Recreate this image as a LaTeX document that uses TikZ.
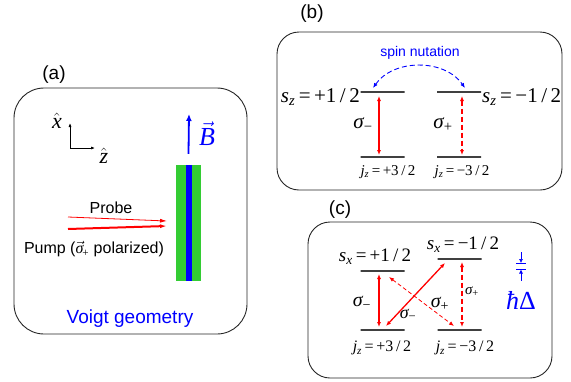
\documentclass[tikz,border=0pt]{standalone}
\usepackage{fontspec}
\setmainfont{Liberation Sans}
\newfontfamily\tms{Liberation Serif}
\usetikzlibrary{arrows.meta, positioning}
\definecolor{slabgreen}{HTML}{33CC33}
\definecolor{slabblue}{HTML}{0000FF}
\definecolor{beamred}{HTML}{FF0000}
\definecolor{lvlline}{HTML}{404040}
\newcommand{\tv}[1]{{\tms\itshape #1}}
\newcommand{\qn}[3]{{\tms\tv{#1}\textsubscript{\tv{#2}}\,=\,#3}}
\newcommand{\sig}[1]{{\tms\tv{σ}\textsubscript{#1}}}
\tikzset{
  panel/.style  = {draw=black!85, line width=0.9pt, rounded corners=22pt},
  tag/.style    = {font=\fontsize{19}{22}\selectfont, inner sep=0pt},
  lvl/.style    = {draw=lvlline, line width=1.1pt, minimum width=44pt, minimum height=0pt,
                   inner sep=0pt, outer sep=0pt},
  st/.style     = {font=\fontsize{21}{23}\selectfont, inner sep=0pt},
  jz/.style     = {font=\fontsize{15}{18}\selectfont, inner sep=0pt},
  small/.style  = {font=\fontsize{16}{18}\selectfont, inner sep=0pt},
  trans/.style  = {draw=beamred, line width=1.3pt,
                   {Latex[length=5pt,width=4pt]}-{Latex[length=5pt,width=4pt]}},
  dtrans/.style = {trans, dash pattern=on 5pt off 3pt},
  beam/.style   = {draw=beamred, -{Latex[length=7pt,width=4pt]}},
  axis/.style   = {line width=0.7pt, -{Latex[length=4pt,width=3pt]}},
  gap/.style    = {draw=blue, line width=0.6pt},
}
\begin{document}
\begin{tikzpicture}[x=1pt, y=-1pt]
\useasboundingbox (0,0) rectangle (571,381);
% (a) Voigt geometry
\draw[panel, rounded corners=30pt] (14,88) rectangle (247,334);
\node[tag] (taga) at (54,75) {(a)};
\coordinate (orig) at (70,148);
\coordinate (xtip) at (70,123);
\coordinate (ztip) at (95,148);
\draw[axis] (orig) -- (xtip);
\draw[axis] (orig) -- (ztip);
\node[st, font=\fontsize{22}{24}\selectfont] (xhat) at (57,121) {$\hat{\hbox{\tv{x}}}$};
\node[st, font=\fontsize{22}{24}\selectfont] (zhat) at (104,156) {$\hat{\hbox{\tv{z}}}$};
\node[fill=slabgreen, minimum width=25pt, minimum height=116pt, inner sep=0pt] (slab) at (188.5,223) {};
\node[fill=slabblue, minimum width=6pt, minimum height=116pt, inner sep=0pt] (core) at (slab.center) {};
\coordinate (btip) at (189,114);
\draw[blue, line width=1.8pt, -{Latex[length=7pt,width=6pt]}] ([yshift=11pt]core.north) -- (btip);
\node[blue, font=\fontsize{26}{28}\selectfont] (bvec) at (207,134) {$\vec{\hbox{\tv{B}}}$};
\coordinate (probeA) at (68,217);
\coordinate (probeB) at (167,221);
\coordinate (pumpA) at (68,229);
\coordinate (pumpB) at (167,226);
\draw[beam, line width=0.8pt] (probeA) -- (probeB);
\draw[beam, line width=2pt] (pumpA) -- (pumpB);
\node[small] (probe) at (111,208) {Probe};
\node[small] (pump) at (94,249) {Pump ($\vec{\hbox{\tv{σ}}}$\kern-1pt{\tms\textsubscript{+}} polarized)};
\node[blue, font=\fontsize{19}{22}\selectfont] (voigt) at (130,319) {Voigt geometry};
% (b) z basis
\draw[panel] (277,32) rectangle (562,190);
\node[tag] (tagb) at (312,14) {(b)};
\foreach \n/\x/\y in {b1/382.5/92, b2/459/92, b3/382.5/157, b4/459/157}
  \node[lvl] (\n) at (\x,\y) {};
\node[st, anchor=east] (sb1) at (360,97) {\qn{s}{z}{+1\,/\,2}};
\node[st, anchor=west] (sb2) at (482,97) {\qn{s}{z}{−1\,/\,2}};
\node[jz] (jb3) at (388,172) {\qn{j}{z}{+3\,/\,2}};
\node[jz] (jb4) at (462,172) {\qn{j}{z}{−3\,/\,2}};
\draw[trans] ([xshift=-3.5pt,yshift=-4pt]b1.center) -- ([xshift=-3.5pt,yshift=2pt]b3.center);
\draw[dtrans] ([xshift=3pt,yshift=-4pt]b2.center) -- ([xshift=3pt,yshift=2pt]b4.center);
\node[st] (sgb1) at (363,125) {\sig{−}};
\node[st] (sgb2) at (443,125) {\sig{+}};
\node[blue, font=\fontsize{14}{16}\selectfont] (spin) at (420,53) {spin nutation};
\draw[blue, line width=0.9pt, dash pattern=on 5pt off 3pt,
      {Latex[length=5pt,width=4pt]}-{Latex[length=5pt,width=4pt]}]
  ([xshift=-9.5pt,yshift=4pt]b1.center) to[bend left=55] ([xshift=6pt,yshift=4pt]b2.center);
% (c) x basis
\draw[panel] (308,222) rectangle (552,378);
\node[tag] (tagc) at (340,210) {(c)};
\foreach \n/\x/\y in {c1/382.5/271, c2/459.5/259, c3/382.5/330, c4/459.5/330}
  \node[lvl] (\n) at (\x,\y) {};
\node[st, font=\fontsize{19}{21}\selectfont] (sc1) at (375,257) {\qn{s}{x}{+1\,/\,2}};
\node[st, font=\fontsize{19}{21}\selectfont] (sc2) at (463,245) {\qn{s}{x}{−1\,/\,2}};
\node[jz, font=\fontsize{16}{19}\selectfont] (jc3) at (382,348) {\qn{j}{z}{+3\,/\,2}};
\node[jz, font=\fontsize{16}{19}\selectfont] (jc4) at (465,348) {\qn{j}{z}{−3\,/\,2}};
\draw[trans] ([xshift=-3.5pt,yshift=-3pt]c1.center) -- ([xshift=-3.5pt,yshift=3pt]c3.center);
\draw[dtrans] ([xshift=2.5pt,yshift=-3pt]c2.center) -- ([xshift=2.5pt,yshift=3pt]c4.center);
\draw[trans] ([xshift=-14.5pt,yshift=-4pt]c2.center) -- ([xshift=3.5pt,yshift=4pt]c3.center);
\draw[trans, line width=0.8pt, dash pattern=on 4pt off 2.5pt] ([xshift=6.5pt,yshift=-6pt]c1.center) -- ([xshift=-5.5pt,yshift=4pt]c4.center);
\node[st, font=\fontsize{20}{22}\selectfont] (sgc1) at (362,303) {\sig{−}};
\node[jz, font=\fontsize{18}{20}\selectfont] (sgc2) at (408,315) {\sig{−}};
\node[st, font=\fontsize{20}{22}\selectfont] (sgc3) at (440,304) {\sig{+}};
\node[jz] (sgc4) at (472,292) {\sig{+}};
\coordinate (gaptop) at (521,263);
\coordinate (gapbot) at (521,269.5);
\draw[gap] ([xshift=-5pt]gaptop) -- ([xshift=5pt]gaptop);
\draw[gap] ([xshift=-5pt]gapbot) -- ([xshift=5pt]gapbot);
\draw[gap, -{Latex[length=4pt,width=4pt]}] ([yshift=11pt]gaptop) -- (gaptop);
\draw[gap, -{Latex[length=4pt,width=4pt]}] ([yshift=-11pt]gapbot) -- (gapbot);
\node[blue, font=\fontsize{26}{28}\selectfont] (hdelta) at (521,300) {\tms\tv{ħ}Δ};
\end{tikzpicture}
\end{document}
